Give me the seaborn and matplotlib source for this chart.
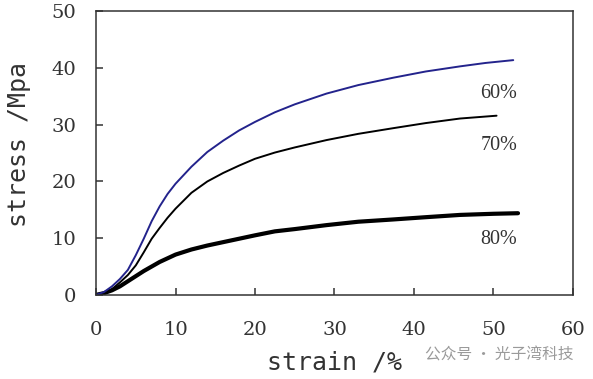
import numpy as np
import pandas as pd
import matplotlib
matplotlib.use("Agg")
import matplotlib.pyplot as plt
import seaborn as sns

# ---- data ----
strain_60 = [0, 1, 2, 3, 4, 5, 6, 7, 8, 9, 10, 12, 14, 16, 18, 20, 22.5, 25, 29, 33, 37.4, 41.5, 45.8, 49, 52.5]
stress_60 = [0, 0.5, 1.5, 2.8, 4.4, 7.0, 9.9, 13.0, 15.6, 17.8, 19.6, 22.6, 25.2, 27.2, 29.0, 30.5, 32.2, 33.6, 35.5, 37.0, 38.3, 39.4, 40.3, 40.9, 41.4]

strain_70 = [0, 1, 2, 3, 4, 5, 6, 7, 8, 9, 10, 12, 14, 16, 18, 20, 22.5, 25, 29, 33, 37.4, 41.5, 45.8, 50.4]
stress_70 = [0, 0.3, 1.0, 2.2, 3.5, 5.2, 7.5, 9.9, 11.8, 13.6, 15.2, 18.0, 20.0, 21.5, 22.8, 24.0, 25.1, 26.0, 27.3, 28.4, 29.4, 30.3, 31.1, 31.6]

strain_80 = [0, 1, 2, 3, 4, 5, 6, 7, 8, 10, 12, 14, 16, 18, 20, 22.5, 25, 29, 33, 37.4, 41.5, 45.8, 50, 53.1]
stress_80 = [0, 0.3, 0.8, 1.5, 2.4, 3.3, 4.2, 5.0, 5.8, 7.1, 8.0, 8.7, 9.3, 9.9, 10.5, 11.2, 11.6, 12.3, 12.9, 13.3, 13.7, 14.1, 14.3, 14.4]

series_labels = ["60%", "70%", "80%"]
label_x = [50.7, 50.7, 50.7]
label_y = [35.6, 26.3, 9.7]

x_ticks = [0, 10, 20, 30, 40, 50, 60]
y_ticks = [0, 10, 20, 30, 40, 50]

x_label = "strain /%"
y_label = "stress /Mpa"
watermark = "公众号 · 光子湾科技"

# ---- plotting ----
sns.set_style("ticks")
plt.rcParams["font.family"] = ["DejaVu Serif"]

fig = plt.figure(figsize=(5.93, 3.79), dpi=100)
ax = fig.add_axes([0.162, 0.222, 0.804, 0.748])

df60 = pd.DataFrame({"strain": strain_60, "stress": stress_60})
df70 = pd.DataFrame({"strain": strain_70, "stress": stress_70})
df80 = pd.DataFrame({"strain": strain_80, "stress": stress_80})

sns.lineplot(data=df80, x="strain", y="stress", ax=ax, color="black", linewidth=3.0, sort=False)
sns.lineplot(data=df70, x="strain", y="stress", ax=ax, color="black", linewidth=1.4, sort=False)
sns.lineplot(data=df60, x="strain", y="stress", ax=ax, color="#23238c", linewidth=1.4, sort=False)

for lab, lx, ly in zip(series_labels, label_x, label_y):
    ax.text(lx, ly, lab, ha="center", va="center", fontsize=14.5,
            family="Liberation Serif", color="#333333")

ax.set_xlim(0, 60)
ax.set_ylim(0, 50)
ax.set_xticks(x_ticks)
ax.set_yticks(y_ticks)
ax.tick_params(direction="in", length=5, width=1.1, color="#333333",
               labelsize=14, labelcolor="#333333")
ax.tick_params(axis="x", pad=19)
ax.tick_params(axis="y", pad=14)
for s in ax.spines.values():
    s.set_visible(True)
    s.set_color("#333333")
    s.set_linewidth(1.1)

ax.set_xlabel(x_label, family="DejaVu Sans Mono", fontsize=18, color="#333333")
ax.set_ylabel(y_label, family="DejaVu Sans Mono", fontsize=18, color="#333333")
ax.xaxis.label.set_va("center")
ax.yaxis.label.set_va("center")
ax.xaxis.set_label_coords(0.5, -0.24)
ax.yaxis.set_label_coords(-0.161, 0.53)

fig.text(0.717, 0.063, watermark, family=["Noto Sans CJK SC", "DejaVu Sans"],
         fontsize=11.3, color="#9a9a9a", ha="left", va="center")

fig.savefig("out.png", dpi=100)
